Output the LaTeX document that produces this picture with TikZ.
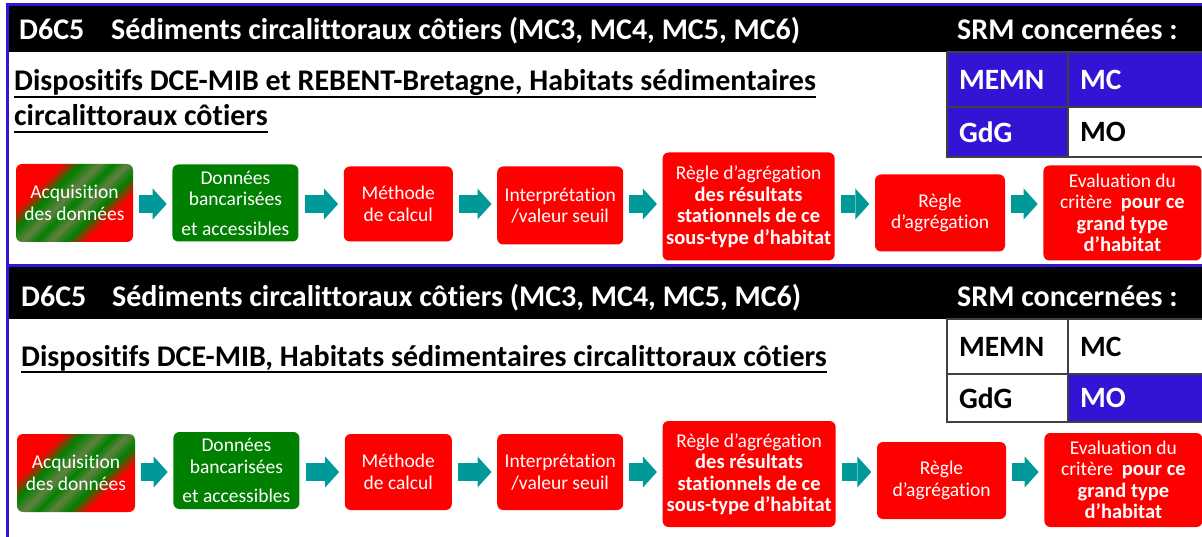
\documentclass[tikz,border=0pt]{standalone}
\usepackage{fontspec}
\setmainfont{Carlito}[Ligatures=NoCommon]
\usepackage{xcolor}
\usepackage{tikz}
\usetikzlibrary{positioning, arrows.meta, calc}

\definecolor{srmblue}{RGB}{51,20,212}
\definecolor{boxred}{RGB}{255,0,0}
\definecolor{boxgreen}{RGB}{0,128,0}
\definecolor{arrowteal}{RGB}{0,153,153}
\definecolor{stripeolive}{RGB}{96,128,64}

% bold lines inside the flow boxes
\newcommand{\boldline}[1]{{\fontsize{20.5}{21.5}\selectfont\bfseries #1}}

% diagonal red/green stripes of the first box
\pgfdeclareverticalshading{acqstripes}{100bp}{color(0bp)=(boxred); color(32bp)=(boxred); color(39bp)=(boxgreen); color(45bp)=(stripeolive); color(50bp)=(boxgreen); color(55bp)=(stripeolive); color(62bp)=(boxgreen); color(69bp)=(boxred); color(100bp)=(boxred)}

\begin{document}
\begin{tikzpicture}[
        x=1pt, y=1pt,
        headbar/.style={rectangle, fill=black, draw=none, anchor=north west, inner sep=0pt},
        headtext/.style={anchor=base west, inner sep=0pt, text=white, font=\bfseries\fontsize{30}{34}\selectfont},
        title/.style={anchor=base west, inner sep=0pt, font=\bfseries\fontsize{30}{34}\selectfont},
        underline/.style={draw=black, line width=2pt},
        cell/.style={rectangle, draw=black!75, line width=1.2pt, outer sep=0pt, inner xsep=12pt, inner ysep=0pt, align=left, font=\bfseries\fontsize{29.5}{32}\selectfont},
        bluecell/.style={cell, fill=srmblue, text=white},
        whitecell/.style={cell, fill=white, text=black},
        box/.style={rectangle, rounded corners=6pt, align=center, inner sep=2pt, text=white, font=\fontsize{19.5}{21.5}\selectfont},
        redbox/.style={box, fill=boxred},
        greenbox/.style={box, fill=boxgreen},
        mixbox/.style={box, shade, shading=acqstripes, shading angle=45},
        flowarrow/.style={draw=arrowteal, line width=18pt, -{Triangle[length=14pt 0 0, width=31pt 0 0, line width=0pt 0 0]}, shorten <=6pt, shorten >=5.5pt},
    ]

    \useasboundingbox (0,0) rectangle (1202,-537);

    % === FRAME ===
    \draw[srmblue, line width=3pt] (1205,-4.5) -- (7.5,-4.5) -- (7.5,-540);
    \draw[srmblue, line width=3pt] (7.5,-265.5) -- (1205,-265.5);

    % === PANEL 1: HEADER ===
    \node[headbar, minimum width=1196pt, minimum height=46pt] (bar1) at (9,-6) {};
    \node[headtext] (crit1) at (19,-40) {D6C5};
    \node[headtext] (name1) at (111,-40) {Sédiments circalittoraux côtiers (MC3, MC4, MC5, MC6)};
    \node[headtext] (srm1) at (957,-40) {SRM concernées :};

    \node[title] (disp1) at (14,-91) {Dispositifs DCE-MIB et REBENT-Bretagne, Habitats sédimentaires};
    \node[title] (disp1b) at (14,-126) {circalittoraux côtiers};
    \draw[underline] ($(disp1.base west)+(0,-6)$) -- ($(disp1.base east)+(0,-6)$);
    \draw[underline] ($(disp1b.base west)+(0,-6)$) -- ($(disp1b.base east)+(0,-6)$);

    % SRM table
    \node[bluecell, anchor=north west, text width=97pt, minimum height=55pt] (memn1) at (947,-52) {MEMN};
    \node[bluecell, right=0pt of memn1, text width=113pt, minimum height=55pt] (mc1) {MC};
    \node[bluecell, below=0pt of memn1, text width=97pt, minimum height=50pt] (gdg1) {GdG};
    \node[whitecell, right=0pt of gdg1, text width=113pt, minimum height=50pt] (mo1) {MO};

    % === PANEL 1: FLOW ===
    \coordinate (row1) at (0,-204);
    \node[mixbox, minimum width=117pt, minimum height=78pt] (acq1) at (74.5,-203) {Acquisition\\des données};
    \node[greenbox, right=39pt of acq1, minimum width=126pt, minimum height=77pt] (bank1) {Données\\bancarisées\\[8pt]et accessibles};
    \node[redbox, right=45pt of bank1, yshift=-1pt, minimum width=109pt, minimum height=75pt] (calc1) {Méthode\\de calcul};
    \node[redbox, right=44pt of calc1, yshift=-1.5pt, minimum width=126pt, minimum height=78pt] (seuil1) {Interprétation\\/valeur seuil};
    \node[redbox, right=39pt of seuil1, yshift=-1pt, minimum width=172pt, minimum height=108pt] (stat1) {Règle d’agrégation\\\boldline{des résultats}\\\boldline{stationnels de ce}\\\boldline{sous-type d’habitat}};
    \node[redbox, right=40pt of stat1, yshift=-6.5pt, minimum width=130pt, minimum height=77pt] (agr1) {Règle\\d’agrégation};
    \node[redbox, right=38pt of agr1, minimum width=158pt, minimum height=95pt] (eval1) {Evaluation du\\critère~ \boldline{pour ce}\\\boldline{grand type}\\\boldline{d’habitat}};

    \draw[flowarrow] (acq1.east |- row1) -- (bank1.west |- row1);
    \draw[flowarrow] (bank1.east |- row1) -- (calc1.west |- row1);
    \draw[flowarrow] (calc1.east |- row1) -- (seuil1.west |- row1);
    \draw[flowarrow] (seuil1.east |- row1) -- (stat1.west |- row1);
    \draw[flowarrow] (stat1.east |- row1) -- (agr1.west |- row1);
    \draw[flowarrow] (agr1.east |- row1) -- (eval1.west |- row1);

    % === PANEL 2: HEADER ===
    \node[headbar, minimum width=1196pt, minimum height=52pt] (bar2) at (9,-267) {};
    \node[headtext] (crit2) at (21,-306) {D6C5};
    \node[headtext] (name2) at (112,-306) {Sédiments circalittoraux côtiers (MC3, MC4, MC5, MC6)};
    \node[headtext] (srm2) at (957,-306) {SRM concernées :};

    \node[title] (disp2) at (21,-366) {Dispositifs DCE-MIB, Habitats sédimentaires circalittoraux côtiers};
    \draw[underline] ($(disp2.base west)+(0,-6)$) -- ($(disp2.base east)+(0,-6)$);

    % SRM table
    \node[whitecell, anchor=north west, text width=97pt, minimum height=55pt] (memn2) at (947,-319) {MEMN};
    \node[whitecell, right=0pt of memn2, text width=113pt, minimum height=55pt] (mc2) {MC};
    \node[whitecell, below=0pt of memn2, text width=97pt, minimum height=48pt] (gdg2) {GdG};
    \node[bluecell, right=0pt of gdg2, text width=113pt, minimum height=48pt] (mo2) {MO};

    % === PANEL 2: FLOW ===
    \coordinate (row2) at (0,-472);
    \node[mixbox, minimum width=118pt, minimum height=78pt] (acq2) at (76,-473) {Acquisition\\des données};
    \node[greenbox, right=38pt of acq2, yshift=2.5pt, minimum width=126pt, minimum height=77pt] (bank2) {Données\\bancarisées\\[8pt]et accessibles};
    \node[redbox, right=45pt of bank2, yshift=-1.5pt, minimum width=107pt, minimum height=76pt] (calc2) {Méthode\\de calcul};
    \node[redbox, right=45pt of calc2, minimum width=126pt, minimum height=76pt] (seuil2) {Interprétation\\/valeur seuil};
    \node[redbox, right=39pt of seuil2, yshift=-2pt, minimum width=173pt, minimum height=106pt] (stat2) {Règle d’agrégation\\\boldline{des résultats}\\\boldline{stationnels de ce}\\\boldline{sous-type d’habitat}};
    \node[redbox, right=41pt of stat2, yshift=-6.5pt, minimum width=129pt, minimum height=77pt] (agr2) {Règle\\d’agrégation};
    \node[redbox, right=38pt of agr2, yshift=0.5pt, minimum width=158pt, minimum height=94pt] (eval2) {Evaluation du\\critère~ \boldline{pour ce}\\\boldline{grand type}\\\boldline{d’habitat}};

    \draw[flowarrow] (acq2.east |- row2) -- (bank2.west |- row2);
    \draw[flowarrow] (bank2.east |- row2) -- (calc2.west |- row2);
    \draw[flowarrow] (calc2.east |- row2) -- (seuil2.west |- row2);
    \draw[flowarrow] (seuil2.east |- row2) -- (stat2.west |- row2);
    \draw[flowarrow] (stat2.east |- row2) -- (agr2.west |- row2);
    \draw[flowarrow] (agr2.east |- row2) -- (eval2.west |- row2);

\end{tikzpicture}
\end{document}
